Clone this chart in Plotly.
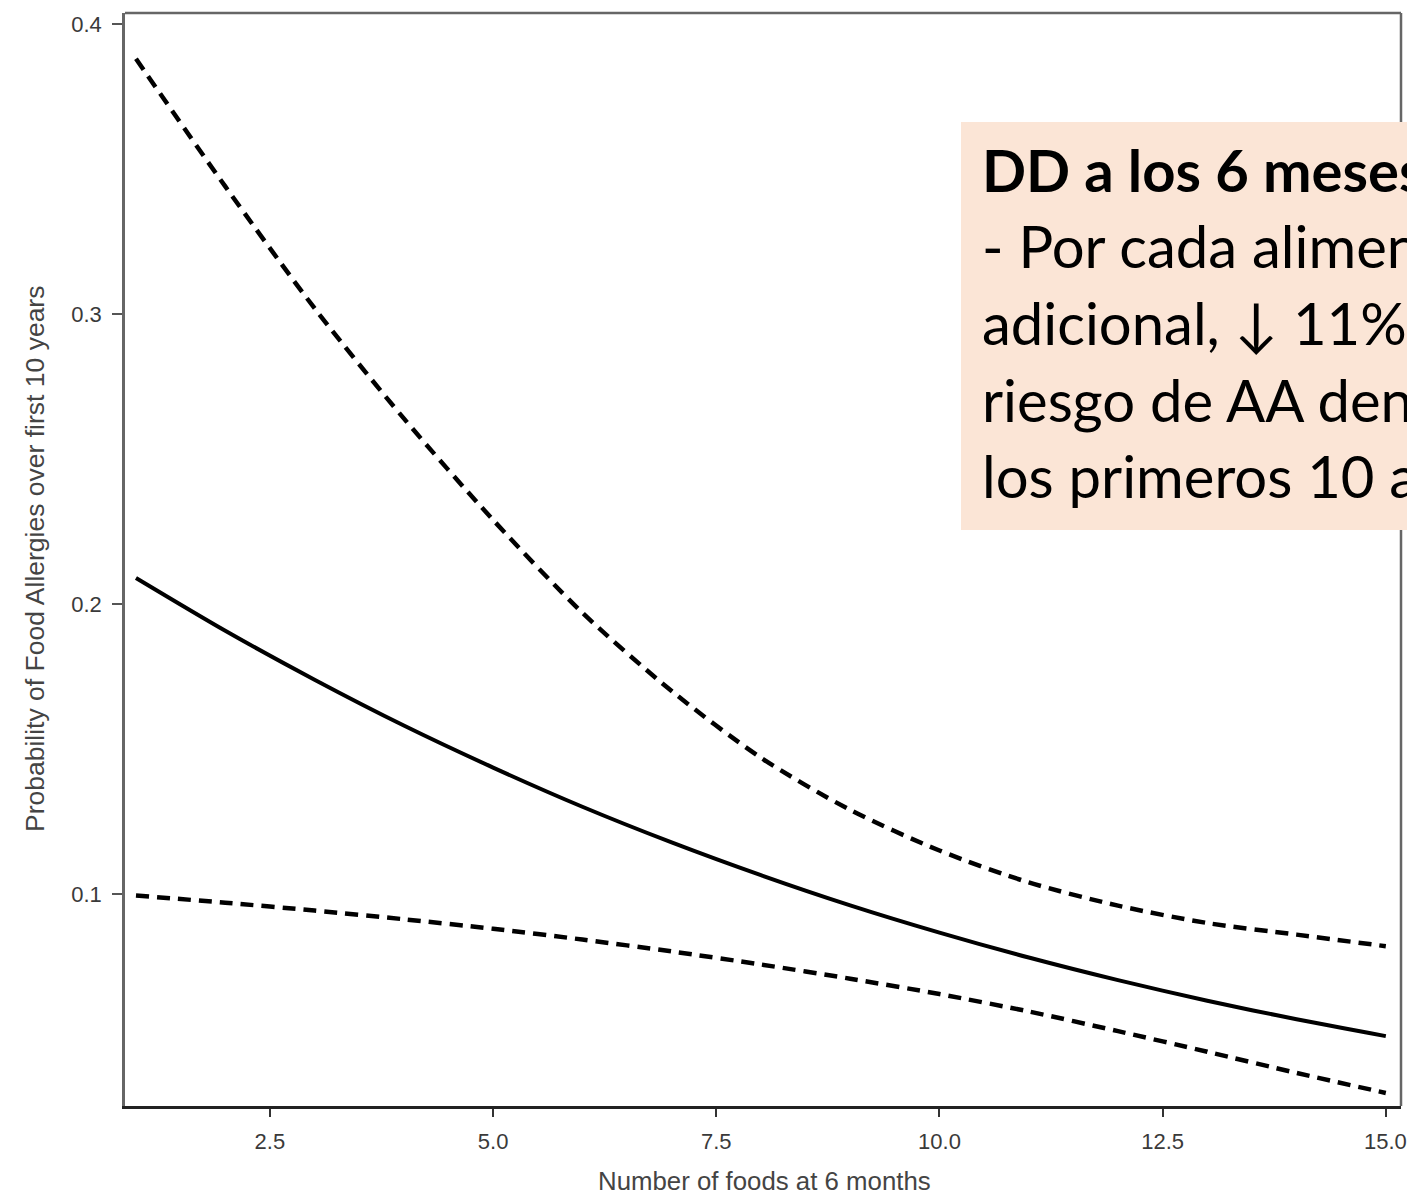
import plotly.graph_objects as go

# ---- data ----
foods = [1, 2, 3, 4, 5, 6, 7, 8, 9, 10, 11, 12, 13, 14, 15]
prob_fit = [0.2090, 0.1908, 0.1739, 0.1581, 0.1436, 0.1301, 0.1178, 0.1065, 0.0961,
            0.0867, 0.0781, 0.0703, 0.0632, 0.0568, 0.0510]
prob_upper = [0.388, 0.344, 0.302, 0.264, 0.229, 0.197, 0.170, 0.147, 0.129, 0.115,
              0.104, 0.096, 0.090, 0.086, 0.082]
prob_lower = [0.0995, 0.097, 0.0943, 0.0913, 0.088, 0.0843, 0.0802, 0.0757, 0.0708,
              0.0655, 0.0595, 0.0527, 0.0456, 0.0383, 0.0314]

x_tickvals = [2.5, 5.0, 7.5, 10.0, 12.5, 15.0]
x_ticktext = ["2.5", "5.0", "7.5", "10.0", "12.5", "15.0"]
y_tickvals = [0.1, 0.2, 0.3, 0.4]
y_ticktext = ["0.1", "0.2", "0.3", "0.4"]

x_title = "Number of foods at 6 months"
y_title = "Probability of Food Allergies over first 10 years"
box_lines = [
    "<b>DD a los 6 meses</b>",
    "- Por cada alimento",
    "adicional, \u2193 11% el",
    "riesgo de AA dentro de",
    "los primeros 10 años",
]

# ---- layout geometry (pixels) ----
W, H = 1407, 1195
L, R, T, B = 125, 1401, 13, 1106
PW, PH = R - L, B - T


def px(xp):
    return (xp - L) / PW


def py(yp):
    return (B - yp) / PH


fig = go.Figure()
dash = "13px,8px"
fig.add_trace(go.Scatter(x=foods, y=prob_upper, mode="lines",
                         line=dict(color="black", width=4.5, dash=dash, shape="spline", smoothing=0.8),
                         showlegend=False, hoverinfo="skip"))
fig.add_trace(go.Scatter(x=foods, y=prob_fit, mode="lines",
                         line=dict(color="black", width=4, shape="spline", smoothing=0.8),
                         showlegend=False, hoverinfo="skip"))
fig.add_trace(go.Scatter(x=foods, y=prob_lower, mode="lines",
                         line=dict(color="black", width=4.5, dash=dash, shape="spline", smoothing=0.8),
                         showlegend=False, hoverinfo="skip"))

tickfont = dict(family="Liberation Sans, Arial, sans-serif", size=22, color="#3a3a3a")

# the last x tick label touches the page edge: its axis label is left blank and it is
# written as an annotation at the same axis value (annotations are clipped by the page)
axis_ticktext = x_ticktext[:-1] + [""]

fig.update_layout(
    width=W, height=H,
    margin=dict(l=L, r=W - R, t=T, b=H - B, pad=0),
    paper_bgcolor="white", plot_bgcolor="white",
    xaxis=dict(range=[0.877, 15.17], tickvals=x_tickvals, ticktext=axis_ticktext,
               showgrid=False, zeroline=False, showline=True, linecolor="#222", linewidth=2.5,
               ticks="outside", ticklen=8, tickwidth=1.5, tickcolor="#333",
               tickfont=tickfont, ticklabelstandoff=6),
    yaxis=dict(range=[0.0269, 0.4038], tickvals=y_tickvals, ticktext=y_ticktext,
               showgrid=False, zeroline=False, showline=True, linecolor="#666", linewidth=2.5,
               ticks="outside", ticklen=10, tickwidth=1.5, tickcolor="#555",
               tickfont=tickfont, ticklabelstandoff=6),
)

fig.add_annotation(text=x_ticktext[-1], xref="x", yref="paper", x=x_tickvals[-1], y=py(1141),
                   xanchor="center", yanchor="middle", showarrow=False, font=tickfont)

# top and right frame lines
fig.add_shape(type="line", xref="paper", yref="paper", x0=0, x1=1, y0=1, y1=1,
              line=dict(color="#666", width=2.5), layer="below")
fig.add_shape(type="line", xref="paper", yref="paper", x0=1, x1=1, y0=0, y1=1,
              line=dict(color="#666", width=2.5), layer="below")

# axis titles
fig.add_annotation(text=x_title, xref="paper", yref="paper", x=px(764), y=py(1181),
                   xanchor="center", yanchor="middle", showarrow=False,
                   font=dict(family="Liberation Sans, Arial, sans-serif", size=25.8, color="#444"))
fig.add_annotation(text=y_title, xref="paper", yref="paper", x=px(35), y=py(559),
                   xanchor="center", yanchor="middle", showarrow=False, textangle=-90,
                   font=dict(family="Liberation Sans, Arial, sans-serif", size=26.5, color="#444"))

# peach note box
fig.add_shape(type="rect", xref="paper", yref="paper", x0=px(961), x1=px(1460),
              y0=py(530), y1=py(122), fillcolor="#FBE5D6", line=dict(width=0), layer="above")

fs = 58
baselines = [192, 268, 345, 422, 498]
for txt, bl in zip(box_lines, baselines):
    fig.add_annotation(text=txt, xref="paper", yref="paper", x=px(980), y=py(bl - 0.387 * fs),
                       xanchor="left", yanchor="middle", showarrow=False,
                       font=dict(family="Lato, sans-serif", size=fs, color="black"))

fig.write_html("out.html")
